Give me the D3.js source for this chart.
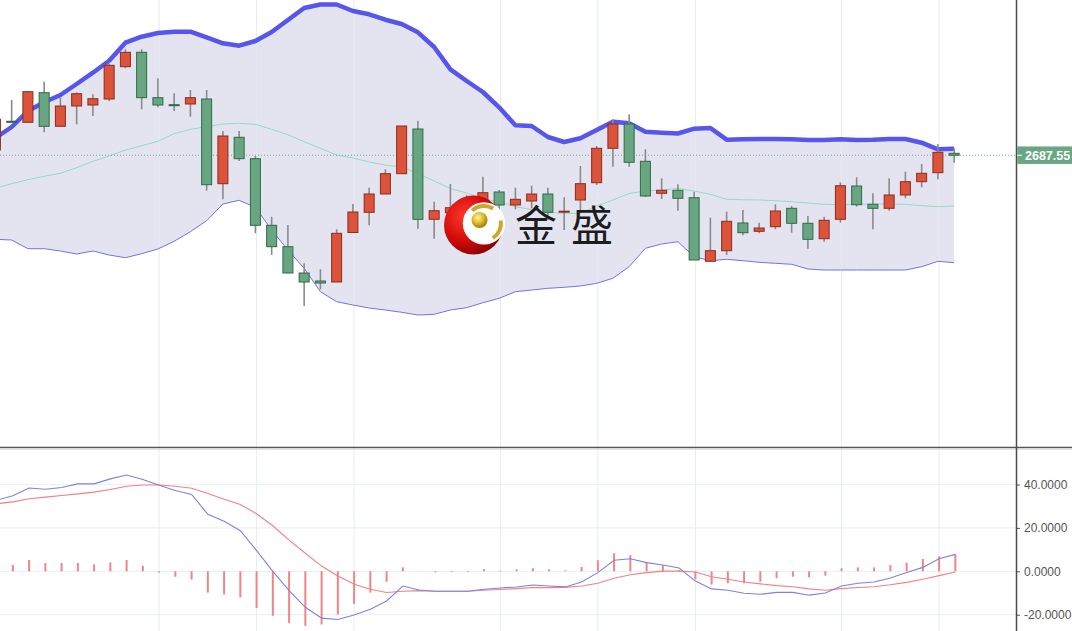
<!DOCTYPE html>
<html><head><meta charset="utf-8">
<script src="https://cdn.jsdelivr.net/npm/d3@7"></script>
<style>html,body{margin:0;padding:0;background:#fff;overflow:hidden}</style>
</head><body><svg id="c" width="1072" height="631"></svg>
<script>
// ---- data (daily candles, index 0..59) ----
const openP  = [2692.8,2721.5,2720.5,2750.1,2716.5,2736.8,2737.8,2743.8,2776.1,2790.5,
                2745.1,2738.1,2738.8,2743.8,2659.1,2705.5,2684.1,2617.5,2596.1,2569.8,
                2561.8,2560.8,2610.3,2630.5,2648.8,2669.1,2713.8,2623.5,2630.1,2637.8,
                2640.1,2650.8,2637.8,2641.8,2648.8,2630.6,2642.8,2660.1,2694.5,2718.8,
                2681.5,2649.5,2652.5,2645.1,2581.5,2592.1,2619.8,2611.5,2616.1,2634.5,
                2619.5,2604.1,2623.5,2656.8,2638.5,2634.5,2647.8,2661.1,2670.1,2689.5];
const highP  = [2725.8,2742.8,2751.8,2761.1,2745.5,2750.5,2748.5,2778.8,2793.5,2793.5,
                2764.5,2749.5,2752.8,2752.8,2711.8,2711.8,2686.8,2626.1,2617.8,2579.5,
                2573.5,2613.5,2638.8,2655.1,2673.5,2716.8,2722.1,2641.1,2658.8,2647.8,
                2666.1,2652.8,2655.1,2657.1,2655.1,2645.5,2676.8,2696.8,2723.5,2728.5,
                2693.5,2664.5,2658.5,2651.1,2625.1,2631.1,2632.8,2620.1,2638.5,2636.8,
                2626.8,2626.1,2660.5,2665.5,2649.5,2664.5,2671.1,2678.8,2698.8,2694.5];
const lowP   = [2690.8,2720.8,2720.3,2710.5,2716.5,2718.5,2726.8,2741.8,2774.5,2733.5,
                2735.5,2731.8,2726.1,2652.1,2643.5,2681.8,2609.5,2587.8,2569.8,2536.8,
                2553.5,2560.8,2610.3,2617.5,2648.8,2669.1,2614.1,2604.1,2622.8,2628.8,
                2634.5,2627.8,2633.5,2634.5,2622.8,2612.8,2631.1,2657.8,2676.1,2676.1,
                2645.8,2643.8,2632.1,2582.8,2580.8,2587.8,2607.5,2609.5,2613.5,2610.1,
                2594.1,2601.1,2620.1,2636.1,2613.5,2632.1,2644.5,2655.5,2663.5,2680.1];
const closeP = [2723.5,2721.0,2751.1,2716.5,2736.8,2749.1,2744.1,2777.5,2790.5,2745.1,
                2737.8,2737.5,2745.1,2658.1,2706.8,2684.1,2617.5,2596.1,2569.8,2560.8,
                2559.8,2609.5,2630.8,2648.8,2669.1,2716.8,2623.5,2632.1,2635.1,2633.8,
                2650.1,2637.8,2643.5,2648.8,2630.5,2631.6,2659.1,2694.5,2718.8,2680.5,
                2646.8,2652.5,2644.5,2582.8,2592.1,2621.5,2610.1,2614.8,2631.8,2619.5,
                2603.5,2622.5,2657.1,2638.1,2634.5,2647.8,2661.1,2669.5,2690.5,2687.55];
// Bollinger bands
const bollUpper = [2704.8,2715.8,2731.8,2740.5,2747.8,2758.8,2770.1,2782.1,2800.1,2806.1,
                   2809.8,2811.1,2811.1,2805.5,2799.5,2797.1,2801.8,2810.8,2822.8,2834.8,
                   2838.3,2838.3,2831.8,2828.5,2823.1,2818.8,2810.5,2795.8,2773.5,2761.8,
                   2750.8,2735.5,2717.5,2716.8,2705.8,2700.8,2704.5,2712.8,2721.1,2719.5,
                   2711.1,2710.1,2709.3,2714.1,2714.8,2703.1,2703.5,2703.8,2703.8,2703.5,
                   2702.8,2702.8,2703.5,2702.8,2703.1,2703.8,2703.8,2700.1,2693.5,2694.1];
const bollMid   = [2654.5,2659.1,2663.1,2666.5,2669.5,2675.1,2681.5,2686.8,2692.8,2697.1,
                   2701.5,2709.1,2713.5,2716.1,2718.8,2719.5,2718.5,2713.5,2708.1,2701.1,
                   2694.5,2687.8,2684.8,2680.8,2677.8,2675.8,2669.3,2661.8,2654.3,2649.8,
                   2644.3,2640.8,2636.1,2633.3,2630.3,2629.5,2629.5,2636.8,2642.8,2649.3,
                   2651.8,2652.8,2654.5,2651.8,2648.5,2643.5,2643.1,2642.8,2642.1,2641.1,
                   2639.8,2638.5,2638.1,2638.5,2638.8,2638.8,2638.5,2637.1,2636.1,2636.8];
const bollLower = [2603.5,2602.8,2594.1,2594.1,2591.8,2588.8,2591.8,2587.8,2585.1,2589.1,
                   2593.8,2601.5,2611.1,2622.1,2638.8,2642.5,2635.5,2612.8,2592.8,2574.5,
                   2551.1,2541.1,2537.8,2534.8,2532.8,2530.5,2527.8,2528.5,2532.8,2535.1,
                   2540.1,2544.5,2551.1,2552.8,2554.5,2555.5,2556.8,2559.5,2564.5,2576.1,
                   2594.5,2598.8,2601.1,2586.1,2582.1,2583.5,2582.1,2580.5,2579.5,2578.5,
                   2573.8,2572.8,2572.8,2572.8,2572.8,2572.8,2572.8,2576.1,2581.5,2580.1];
// MACD
const macdDif  = [32.8,34.8,38.4,37.8,38.6,40.3,40.3,42.6,44.4,42.3,
                  39.7,37.2,35.4,26.3,23.1,18.7,9.5,0.0,-8.9,-16.6,
                  -21.6,-22.2,-20.1,-17.5,-13.7,-6.8,-8.6,-9.2,-9.2,-9.2,
                  -8.3,-7.7,-7.2,-6.3,-6.8,-7.2,-4.9,-0.6,5.1,5.8,
                  4.0,2.9,1.5,-4.5,-8.1,-8.7,-10.1,-10.6,-9.7,-9.7,
                  -11.0,-10.0,-6.8,-5.5,-4.9,-3.1,-0.6,1.8,5.8,7.8];
const macdDea  = [31.1,32.0,33.4,34.2,34.9,35.7,36.5,37.7,39.2,39.8,
                  39.8,39.2,38.3,35.9,33.2,30.8,26.5,21.0,14.4,8.3,
                  2.4,-2.2,-6.0,-8.3,-9.8,-9.2,-8.9,-9.2,-9.2,-9.2,
                  -8.7,-8.4,-8.0,-7.5,-7.5,-7.4,-6.8,-5.5,-3.2,-1.6,
                  -0.6,0.1,0.1,-0.3,-2.5,-3.7,-4.9,-5.8,-6.6,-7.1,
                  -8.1,-8.7,-8.0,-7.5,-7.1,-6.2,-5.1,-3.7,-2.0,-0.3];
const macdHist = [2.0,2.9,5.2,3.8,3.8,3.8,3.2,4.1,5.2,2.5,
                  -0.6,-2.5,-3.8,-9.8,-10.7,-12.1,-16.9,-20.5,-23.8,-25.1,
                  -24.5,-19.9,-15.0,-9.8,-4.8,1.8,0.1,-0.5,-0.4,-0.4,
                  1.0,0.3,0.9,1.4,0.9,0.4,2.0,5.1,8.3,7.4,
                  4.3,2.8,0.6,-3.7,-6.1,-5.5,-5.5,-4.8,-3.2,-2.5,
                  -2.8,-2.0,1.4,1.8,1.8,2.8,4.0,5.7,6.9,7.8];
const gridIdx   = [10,16,22,31,37,43,52,58];
const macdTicks = [40,20,0,-20];
const lastPrice = 2687.55;
const watermark = "金盛";

// ---- layout ----
const svg = d3.select('#c');
const axisX = 1016, topH = 447, macdTop = 449, H = 631, W = 1072;
const idx = d3.range(openP.length);
const x = d3.scaleLinear().domain([0, 59]).range([-3.4, 955.35]);
const cs = -1.2; // candle centre shift
const y = d3.scaleLinear().domain([2395.8, 2842.8]).range([topH, 0]);
const ym = d3.scaleLinear().domain([-20, 40]).range([614.7, 484.5]);

const defs = svg.append('defs');
defs.append('clipPath').attr('id','clipTop').append('rect').attr('x',0).attr('y',0).attr('width',axisX).attr('height',topH);
defs.append('clipPath').attr('id','clipM').append('rect').attr('x',0).attr('y',macdTop).attr('width',axisX).attr('height',H-macdTop);

const topG = svg.append('g').attr('clip-path','url(#clipTop)');
// band fill
topG.append('path').datum(idx)
  .attr('d', d3.area().x(i=>x(i)+cs).y0(i=>y(bollLower[i])).y1(i=>y(bollUpper[i])))
  .attr('fill','#e4e4f1');
// vertical grid
topG.selectAll('line.g').data(gridIdx).join('line')
  .attr('x1',i=>x(i)).attr('x2',i=>x(i)).attr('y1',0).attr('y2',topH)
  .attr('stroke','#e3ebf3').attr('stroke-width',1);
// mid & lower band
topG.append('path').datum(idx).attr('d', d3.line().x(i=>x(i)+cs).y(i=>y(bollMid[i])))
  .attr('fill','none').attr('stroke','#93dcc4').attr('stroke-width',1);
topG.append('path').datum(idx).attr('d', d3.line().x(i=>x(i)+cs).y(i=>y(bollLower[i])))
  .attr('fill','none').attr('stroke','#7474e0').attr('stroke-width',1);
topG.append('path').datum(idx).attr('d', d3.line().x(i=>x(i)+cs).y(i=>y(bollUpper[i])))
  .attr('fill','none').attr('stroke','#5656ee').attr('stroke-width',4.5).attr('stroke-linejoin','round');
// last price dotted line
topG.append('line').attr('x1',0).attr('x2',axisX).attr('y1',y(lastPrice)).attr('y2',y(lastPrice))
  .attr('stroke','#74a98c').attr('stroke-width',1).attr('stroke-dasharray','1,2');
// candles
const bw = 10;
const cg = topG.append('g');
cg.selectAll('line.w').data(idx).join('line')
  .attr('x1',i=>x(i)+cs).attr('x2',i=>x(i)+cs)
  .attr('y1',i=>y(highP[i])).attr('y2',i=>y(lowP[i]))
  .attr('stroke','#8a8a8a').attr('stroke-width',1.6);
cg.selectAll('rect.b').data(idx).join('rect')
  .attr('x',i=>x(i)+cs-bw/2).attr('width',bw)
  .attr('y',i=>y(Math.max(openP[i],closeP[i])))
  .attr('height',i=>Math.max(1,Math.abs(y(openP[i])-y(closeP[i]))))
  .attr('fill',i=>closeP[i]>=openP[i]?'#dc533b':'#68a682')
  .attr('stroke',i=>closeP[i]>=openP[i]?'#8c2c1d':'#2f6a47')
  .attr('stroke-width',1);

// watermark logo
const rg = defs.append('radialGradient').attr('id','redG').attr('cx','35%').attr('cy','35%').attr('r','75%');
rg.append('stop').attr('offset','0%').attr('stop-color','#ff3a2a');
rg.append('stop').attr('offset','55%').attr('stop-color','#d40a0a');
rg.append('stop').attr('offset','100%').attr('stop-color','#7e0000');
const gg = defs.append('radialGradient').attr('id','goldG').attr('cx','40%').attr('cy','35%').attr('r','65%');
gg.append('stop').attr('offset','0%').attr('stop-color','#fff3a0');
gg.append('stop').attr('offset','50%').attr('stop-color','#e0c030');
gg.append('stop').attr('offset','100%').attr('stop-color','#a07d08');
const logo = svg.append('g');
logo.append('circle').attr('cx',473.5).attr('cy',225).attr('r',29.5).attr('fill','url(#redG)');
logo.append('circle').attr('cx',484).attr('cy',223.4).attr('r',21.2).attr('fill','#ffffff');
const arcG = d3.arc();
logo.append('path').attr('transform','translate(484,223.4)')
  .attr('d', arcG({innerRadius:15.5,outerRadius:19.5,startAngle:-0.75,endAngle:0.55}))
  .attr('fill','#cfa630');
logo.append('path').attr('transform','translate(484,223.4)')
  .attr('d', arcG({innerRadius:15,outerRadius:19,startAngle:1.4,endAngle:2.6}))
  .attr('fill','#cfa630');
logo.append('circle').attr('cx',479.5).attr('cy',220).attr('r',8).attr('fill','url(#goldG)');
svg.append('text').attr('x',515).attr('y',241)
  .attr('font-family','"Noto Sans CJK SC", sans-serif').attr('font-size',42)
  .attr('letter-spacing',14).attr('fill','#1c1c1c').text(watermark);

// ---- MACD panel ----
const mg = svg.append('g').attr('clip-path','url(#clipM)');
mg.selectAll('line.h').data(macdTicks).join('line')
  .attr('x1',0).attr('x2',axisX).attr('y1',d=>ym(d)).attr('y2',d=>ym(d))
  .attr('stroke','#edf1f5').attr('stroke-width',1.2);
mg.selectAll('line.v').data(gridIdx).join('line')
  .attr('x1',i=>x(i)).attr('x2',i=>x(i)).attr('y1',macdTop).attr('y2',H)
  .attr('stroke','#e6edf4').attr('stroke-width',1);
mg.selectAll('rect.hb').data(idx).join('rect')
  .attr('x',i=>x(i)-1).attr('width',2)
  .attr('y',i=>Math.min(ym(0),ym(macdHist[i])))
  .attr('height',i=>Math.abs(ym(macdHist[i])-ym(0)))
  .attr('fill','#f08585');
mg.append('path').datum(idx).attr('d', d3.line().x(i=>x(i)).y(i=>ym(macdDea[i])))
  .attr('fill','none').attr('stroke','#f08282').attr('stroke-width',1.1);
mg.append('path').datum(idx).attr('d', d3.line().x(i=>x(i)).y(i=>ym(macdDif[i])))
  .attr('fill','none').attr('stroke','#8080e4').attr('stroke-width',1.1);

// axis on the right for MACD
const ax = svg.append('g').attr('transform',`translate(${axisX},0)`)
  .call(d3.axisRight(ym).tickValues(macdTicks).tickSize(4).tickPadding(4).tickFormat(d => d.toFixed(4)));
ax.select('.domain').remove();
ax.selectAll('line').attr('stroke','#555');
ax.selectAll('text').attr('fill','#555').attr('font-size',12).attr('font-family','"Liberation Sans", Arial, sans-serif');

// frame lines
svg.append('line').attr('x1',0).attr('x2',W).attr('y1',447.5).attr('y2',447.5).attr('stroke','#555').attr('stroke-width',1.5);
svg.append('line').attr('x1',0).attr('x2',W).attr('y1',449.2).attr('y2',449.2).attr('stroke','#d8d8d8').attr('stroke-width',1);
svg.append('line').attr('x1',axisX+0.5).attr('x2',axisX+0.5).attr('y1',0).attr('y2',H).attr('stroke','#4a4a4a').attr('stroke-width',1.5);

// last price label
const ly = y(lastPrice);
svg.append('rect').attr('x',axisX+1.3).attr('y',ly-8.8).attr('width',W-axisX).attr('height',17.5).attr('fill','#69a784');
svg.append('line').attr('x1',axisX+1.3).attr('x2',axisX+6).attr('y1',ly).attr('y2',ly).attr('stroke','#ffffff').attr('stroke-width',1);
svg.append('text').attr('x',axisX+9).attr('y',ly+4.5).attr('fill','#ffffff')
  .attr('font-size',12.5).attr('font-weight','bold').attr('font-family','"Liberation Sans", Arial, sans-serif')
  .text(lastPrice.toFixed(2));
</script>
</body></html>
